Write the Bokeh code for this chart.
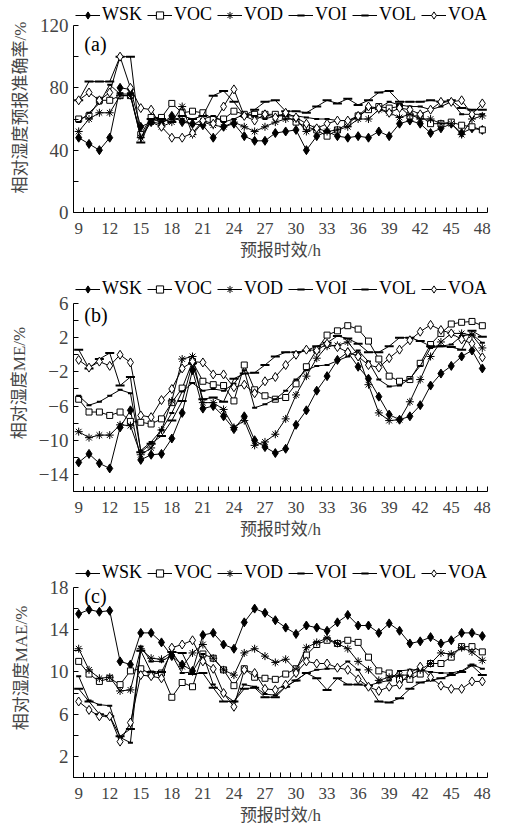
from bokeh.plotting import figure
from bokeh.models import Range1d, FixedTicker, Legend, LegendItem, Label
from bokeh.layouts import column
from bokeh.embed import file_html
from bokeh.resources import INLINE

# ---------------- data ----------------
hours = list(range(9, 49))
series_names = ["WSK", "VOC", "VOD", "VOI", "VOL", "VOA"]

# (a) relative humidity forecast accuracy /%
acc_wsk = [48, 44, 40, 48, 80, 79, 55, 58, 57, 62, 58, 57, 56, 48, 55, 57, 49, 46, 46, 51,
           52, 53, 40, 49, 52, 49, 48, 49, 48, 52, 49, 57, 59, 57, 51, 54, 57, 51, 54, 53]
acc_voc = [60, 62, 72, 72, 75, 75, 50, 61, 61, 70, 64, 65, 64, 60, 60, 65, 63, 63, 63, 63,
           62, 58, 55, 53, 49, 53, 57, 62, 66, 68, 67, 68, 62, 62, 57, 57, 58, 56, 55, 53]
acc_vod = [52, 60, 64, 64, 75, 75, 48, 58, 55, 58, 68, 50, 58, 56, 55, 58, 55, 52, 55, 58,
           60, 60, 52, 54, 52, 53, 55, 60, 60, 66, 64, 61, 63, 60, 60, 57, 57, 50, 60, 62]
acc_voi = [58, 64, 70, 82, 76, 76, 48, 60, 58, 60, 60, 56, 60, 62, 58, 60, 63, 62, 60, 62,
           62, 62, 61, 60, 60, 59, 59, 61, 67, 67, 71, 69, 68, 68, 66, 68, 71, 63, 63, 63]
acc_vol = [72, 84, 84, 84, 100, 100, 45, 60, 60, 58, 62, 60, 62, 75, 78, 71, 62, 66, 71, 72,
           65, 65, 64, 68, 72, 70, 73, 69, 72, 77, 78, 71, 71, 71, 72, 71, 72, 67, 66, 66]
acc_voa = [72, 77, 72, 77, 100, 80, 67, 66, 55, 48, 48, 51, 59, 57, 68, 79, 62, 59, 63, 61,
           64, 61, 57, 54, 57, 59, 59, 62, 68, 67, 64, 67, 66, 63, 66, 71, 71, 72, 63, 70]

# (b) relative humidity ME /%
me_wsk = [-12.6, -11.6, -12.7, -13.3, -8.5, -6.5, -12.3, -11.7, -11.6, -9.8,
          -6.8, -1.8, -6.3, -6.0, -7.2, -8.7, -7.2, -10.0, -10.8, -11.5,
          -11.0, -8.2, -6.5, -4.2, -2.5, -0.6, 0.3, -1.4, -2.8, -4.9,
          -7.0, -7.6, -7.2, -5.9, -3.6, -2.2, -1.3, -0.2, 0.5, -1.6]
me_voc = [-5.2, -6.7, -6.7, -7.1, -6.7, -7.8, -7.9, -8.1, -7.5, -5.6,
          -3.9, -0.8, -3.1, -3.5, -3.6, -5.4, -1.2, -4.1, -4.8, -5.2,
          -5.0, -3.4, -1.4, 0.6, 2.3, 2.8, 3.4, 3.0, 1.6, -0.5,
          -2.5, -3.1, -2.9, -1.0, 1.2, 2.5, 3.6, 3.8, 3.9, 3.4]
me_vod = [-9.0, -9.7, -9.4, -9.4, -8.2, -8.3, -11.7, -10.9, -8.8, -5.4,
          -0.5, -0.2, -5.6, -5.6, -6.4, -8.5, -7.7, -10.6, -10.2, -9.3,
          -7.5, -4.7, -2.5, -0.4, 1.0, 1.1, 1.5, 0.0, -3.5, -6.8,
          -7.7, -7.6, -5.5, -2.9, -0.2, 1.5, 2.5, 2.5, 2.3, 0.8]
me_voi = [-4.8, -5.9, -5.5, -4.8, -4.1, -4.5, -11.2, -10.2, -8.8, -6.8,
          -4.3, -3.3, -4.2, -4.0, -4.2, -3.4, -1.8, -6.2, -5.8, -5.2,
          -4.2, -2.9, -1.8, -1.3, -1.2, -0.7, -0.2, 0.5, -0.8, -2.9,
          -3.7, -3.6, -2.8, -1.3, 0.8, 1.0, 1.2, 2.2, 2.4, 1.4]
me_vol = [0.6, -1.6, -0.5, 0.2, -3.6, -2.6, -11.4, -10.4, -9.5, -7.7,
          -5.4, -1.0, -5.2, -5.0, -5.5, -2.8, -2.2, -2.1, -1.2, -0.2,
          0.3, 0.3, 0.5, 1.0, 1.4, 2.2, 1.9, 1.3, 0.3, 0.3,
          1.0, 2.0, 2.0, 1.6, 1.0, 1.0, 0.9, 0.6, 2.8, 2.1]
me_voa = [-0.6, -1.5, -0.8, -1.3, 0.0, -0.9, -7.1, -7.3, -5.3, -4.0,
          -1.6, -0.8, -0.9, -2.3, -2.3, -3.8, -3.5, -4.5, -3.1, -2.6,
          -1.2, 0.0, 0.6, 0.5, 1.3, 0.9, 0.3, -0.2, -1.2, -1.5,
          -0.4, 0.6, 1.7, 2.7, 3.5, 2.9, 2.5, 1.8, 1.3, -0.3]

# (c) relative humidity MAE /%
mae_wsk = [15.5, 15.9, 15.7, 15.8, 11.0, 10.7, 13.7, 13.7, 12.8, 11.5,
           10.7, 10.1, 13.5, 13.7, 12.6, 12.2, 14.7, 16.0, 15.6, 14.9,
           14.2, 13.6, 14.4, 14.2, 13.9, 14.7, 15.4, 14.4, 14.4, 13.7,
           14.6, 13.9, 12.7, 12.9, 13.3, 12.7, 13.0, 13.7, 13.7, 13.4]
mae_voc = [11.0, 9.8, 9.1, 9.4, 8.8, 10.1, 10.3, 9.8, 9.9, 7.6,
           9.0, 8.6, 11.7, 11.3, 10.2, 8.7, 10.3, 9.5, 9.4, 9.3,
           9.8, 10.3, 11.6, 12.6, 13.0, 12.7, 13.0, 12.8, 11.4, 10.1,
           9.9, 9.3, 9.3, 9.8, 10.8, 10.8, 11.4, 12.4, 12.4, 11.9]
mae_vod = [12.2, 10.2, 9.4, 9.5, 8.2, 8.3, 12.2, 11.3, 11.2, 11.9,
           10.5, 11.8, 12.6, 11.3, 10.2, 9.7, 11.8, 12.2, 11.5, 10.9,
           11.2, 10.2, 12.3, 12.8, 13.2, 12.7, 12.2, 11.0, 10.2, 9.2,
           9.5, 9.7, 9.7, 10.2, 10.8, 11.8, 11.7, 12.3, 11.9, 11.1]
mae_voi = [9.6, 7.3, 6.9, 6.8, 3.8, 3.3, 12.4, 11.0, 11.0, 11.6,
           9.9, 10.0, 11.7, 8.8, 7.9, 7.2, 8.8, 8.6, 7.9, 7.8,
           8.6, 9.2, 9.9, 10.2, 10.3, 10.3, 11.0, 10.2, 8.7, 9.0,
           9.2, 10.1, 10.2, 10.2, 10.0, 9.9, 9.9, 10.1, 10.7, 10.3]
mae_vol = [8.4, 7.2, 6.0, 5.8, 3.9, 4.6, 12.0, 10.0, 10.0, 11.9,
           11.8, 9.8, 9.9, 8.5, 7.2, 7.2, 8.4, 8.5, 7.6, 7.6,
           8.6, 9.2, 9.9, 9.4, 8.3, 9.4, 8.8, 8.8, 8.7, 7.2,
           7.1, 7.5, 8.4, 9.0, 9.2, 9.4, 9.7, 10.0, 10.6, 9.7]
mae_voa = [7.2, 6.4, 5.8, 5.8, 3.4, 5.2, 9.7, 9.6, 9.4, 12.3,
           12.6, 13.0, 11.0, 10.3, 8.0, 6.7, 10.2, 9.9, 8.4, 8.3,
           8.8, 9.9, 11.0, 10.8, 10.8, 10.4, 10.2, 9.3, 8.6, 8.2,
           8.6, 8.8, 9.9, 10.5, 9.5, 8.7, 8.4, 8.4, 9.1, 9.1]

x_tick_labels = [9, 12, 15, 18, 21, 24, 27, 30, 33, 36, 39, 42, 45, 48]
acc_ticks = [0, 40, 80, 120]
me_ticks = [-14, -10, -6, -2, 2, 6]
mae_ticks = [2, 6, 10, 14, 18]

# ---------------- style ----------------
SERIF = "Liberation Serif"
MIXED = "'Liberation Serif', 'Noto Sans CJK SC'"

marker_style = {
    "WSK": dict(marker="diamond", size=9, fill_color="black", line_width=1),
    "VOC": dict(marker="square", size=6, fill_color="white", line_width=1),
    "VOD": dict(marker="asterisk", size=8, fill_color="white", line_width=1),
    "VOI": dict(marker="dash", size=5, fill_color="black", line_width=2),
    "VOL": dict(marker="dash", size=9, fill_color="black", line_width=2),
    "VOA": dict(marker="diamond", size=9, fill_color="white", line_width=1),
}


def make_panel(series, y_start, y_end, label_ticks, minor_ticks, tag, tag_y,
               ylabel, ylab_standoff, axis_px, extra_px, bottom, legend_up):
    # the frame also holds the legend strip above the axis end (axis bounded)
    frame_h = axis_px + extra_px
    y_top = y_end + extra_px * (y_end - y_start) / axis_px
    p = figure(frame_width=414, frame_height=frame_h,
               min_border_left=73, min_border_right=18,
               min_border_top=2, min_border_bottom=bottom,
               x_range=Range1d(8.5, 48.5), y_range=Range1d(y_start, y_top),
               output_backend="svg", toolbar_location=None,
               background_fill_color="white", border_fill_color="white")
    p.outline_line_color = None
    p.xgrid.visible = False
    p.ygrid.visible = False

    items = []
    for name, ys in zip(series_names, series):
        st = marker_style[name]
        ln = p.line(hours, ys, line_color="black", line_width=1)
        sc = p.scatter(hours, ys, marker=st["marker"], size=st["size"],
                       line_color="black", fill_color=st["fill_color"],
                       line_width=st["line_width"])
        items.append(LegendItem(label=name, renderers=[ln, sc]))

    legend = Legend(items=items, orientation="horizontal",
                    location=(2, axis_px + legend_up))
    legend.border_line_color = None
    legend.background_fill_alpha = 0
    legend.padding = 0
    legend.margin = 0
    legend.spacing = 5
    legend.label_standoff = 2
    legend.glyph_width = 25
    legend.glyph_height = 18
    legend.label_height = 18
    legend.label_text_font = SERIF
    legend.label_text_font_size = "18px"
    legend.label_text_color = "black"
    p.add_layout(legend)

    # x axis
    xa = p.xaxis[0]
    xa.ticker = FixedTicker(ticks=x_tick_labels,
                            minor_ticks=[h - 0.5 for h in hours] + [48.5])
    xa.major_tick_in = 0
    xa.major_tick_out = 0
    xa.minor_tick_in = 5
    xa.minor_tick_out = 0
    xa.major_label_text_font = SERIF
    xa.major_label_text_font_size = "17px"
    xa.major_label_standoff = 10
    xa.axis_label = "预报时效/h"
    xa.axis_label_text_font = MIXED
    xa.axis_label_text_font_size = "17px"
    xa.axis_label_text_font_style = "normal"
    xa.axis_label_standoff = 4
    xa.axis_line_color = "black"
    xa.minor_tick_line_color = "black"

    # y axis (bounded to the data range)
    ya = p.yaxis[0]
    ya.bounds = (y_start, y_end)
    ya.ticker = FixedTicker(ticks=label_ticks, minor_ticks=minor_ticks)
    ya.major_tick_in = 5
    ya.major_tick_out = 0
    ya.minor_tick_in = 5
    ya.minor_tick_out = 0
    ya.major_label_text_font = SERIF
    ya.major_label_text_font_size = "19px"
    ya.major_label_standoff = 5
    ya.major_label_overrides = {t: (str(t) if t >= 0 else "\u2212" + str(-t))
                                for t in label_ticks}
    ya.axis_label = ylabel
    ya.axis_label_text_font = MIXED
    ya.axis_label_text_font_size = "17px"
    ya.axis_label_text_font_style = "normal"
    ya.axis_label_standoff = ylab_standoff
    ya.axis_line_color = "black"
    ya.minor_tick_line_color = "black"

    # panel tag
    p.add_layout(Label(x=9.55, y=tag_y, text=tag, text_font=SERIF,
                       text_font_size="20px", text_align="left",
                       text_baseline="middle", text_color="black"))
    return p


pa = make_panel([acc_wsk, acc_voc, acc_vod, acc_voi, acc_vol, acc_voa],
                0, 120, acc_ticks, [20, 60, 100], "(a)", 108,
                "相对湿度预报准确率/%", 7,
                axis_px=187, extra_px=23, bottom=60, legend_up=0)
pb = make_panel([me_wsk, me_voc, me_vod, me_voi, me_vol, me_voa],
                -16, 6, me_ticks, [-16, -12, -8, -4, 0, 4], "(b)", 4.6,
                "相对湿度ME/%", 7,
                axis_px=188, extra_px=29, bottom=65, legend_up=4)
pc = make_panel([mae_wsk, mae_voc, mae_vod, mae_voi, mae_vol, mae_voa],
                0, 18, mae_ticks, [0, 4, 8, 12, 16], "(c)", 17.2,
                "相对湿度MAE/%", 16,
                axis_px=190, extra_px=29, bottom=55, legend_up=4)

layout = column(pa, pb, pc, spacing=0)
open("out.html", "w").write(file_html(layout, INLINE))
